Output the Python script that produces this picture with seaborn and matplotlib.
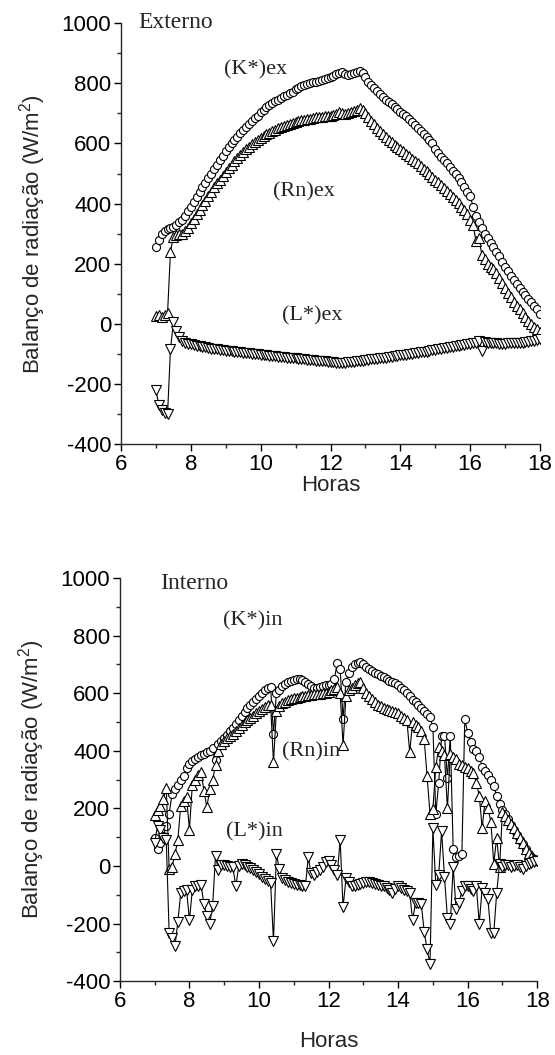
import numpy as np
import pandas as pd
import matplotlib
matplotlib.use("Agg")
import matplotlib.pyplot as plt
import seaborn as sns
from matplotlib.ticker import MultipleLocator

# time grid: 5-minute samples from 7:00 to 18:00
horas = np.round(7.0 + np.arange(133) / 12.0, 4)

# ---------------- Externo ----------------
k_ex = [255, 280, 300, 310, 315, 318, 322, 330, 338, 346, 360, 375,
        390, 405, 422, 440, 455, 470, 485, 500, 515, 530, 545, 560,
        575, 588, 600, 612, 623, 634, 645, 655, 665, 675, 684, 693,
        705, 713, 720, 727, 734, 740, 746, 752, 757, 762, 767, 772,
        782, 786, 790, 794, 797, 800, 803, 806, 809, 812, 815, 818,
        822, 826, 830, 836, 838, 832, 828, 830, 834, 838, 842, 836,
        822, 805, 795, 785, 775, 765, 755, 745, 738, 730, 722, 714,
        706, 698, 690, 682, 673, 663, 652, 642, 632, 622, 612, 600,
        580, 568, 556, 545, 534, 522, 510, 498, 485, 472, 455, 440,
        425, 390, 360, 340, 320, 300, 285, 270, 255, 240, 225, 205,
        190, 175, 160, 146, 133, 120, 107, 95, 84, 72, 60, 48,
        32]
rn_ex = [25, 30, 22, 28, 35, 240, 290, 295, 298, 300, 308, 320,
         335, 350, 365, 380, 395, 410, 425, 440, 455, 468, 480, 492,
         505, 518, 530, 541, 552, 562, 571, 580, 589, 597, 605, 612,
         618, 624, 630, 636, 641, 646, 651, 655, 659, 663, 666, 669,
         672, 675, 677, 679, 681, 683, 685, 687, 688, 689, 690, 691,
         692, 694, 698, 705, 702, 698, 700, 704, 708, 712, 718, 712,
         700, 688, 676, 664, 652, 642, 632, 622, 612, 604, 596, 589,
         582, 574, 566, 558, 550, 542, 534, 525, 516, 507, 498, 489,
         480, 471, 462, 452, 442, 432, 422, 412, 401, 390, 378, 366,
         345, 330, 275, 285, 230, 215, 200, 190, 182, 168, 152, 136,
         120, 104, 88, 74, 60, 48, 36, 22, 10, 0, -10, -18,
         -27]
l_ex = [-220, -270, -285, -295, -300, -85, 5, -25, -45, -58, -62, -66,
        -68, -70, -72, -74, -76, -78, -80, -82, -84, -85, -86, -88,
        -89, -90, -91, -92, -94, -95, -96, -97, -98, -99, -100, -101,
        -102, -103, -104, -106, -107, -108, -109, -110, -111, -112, -113, -114,
        -115, -116, -117, -118, -119, -120, -121, -122, -123, -124, -125, -126,
        -127, -128, -129, -130, -130, -129, -128, -127, -126, -125, -124, -122,
        -121, -120, -118, -117, -116, -115, -113, -112, -110, -109, -107, -106,
        -105, -104, -103, -101, -100, -98, -96, -95, -93, -92, -90, -88,
        -87, -85, -83, -81, -80, -78, -76, -74, -73, -71, -70, -68,
        -66, -64, -62, -58, -90, -60, -62, -63, -64, -65, -66, -66,
        -66, -65, -65, -64, -63, -63, -62, -61, -60, -58, -56, -54,
        -50]

# ---------------- Interno ----------------
k_in = [98, 58, 80, 105, 140, 182, 250, 266, 283, 300, 311, 340,
        355, 365, 373, 378, 384, 390, 396, 401, 410, 368, 425, 435,
        445, 455, 469, 480, 495, 508, 522, 535, 548, 560, 570, 580,
        589, 600, 610, 618, 622, 460, 600, 612, 625, 632, 638, 642,
        645, 648, 650, 647, 640, 632, 625, 620, 618, 622, 625, 628,
        628, 632, 650, 706, 683, 511, 640, 672, 690, 700, 705, 709,
        700, 690, 685, 678, 672, 666, 661, 655, 648, 643, 638, 634,
        630, 620, 610, 600, 590, 578, 568, 558, 548, 538, 527, 517,
        483, 180, 289, 450, 452, 306, 450, 58, 30, 35, 40, 511,
        463, 430, 407, 401, 380, 345, 330, 317, 300, 278, 244, 215,
        193, 180, 165, 143, 125, 109, 92, 75, 60, 42, 32, 25,
        19]
rn_in = [176, 193, 210, 233, 272, -9, -3, 40, 92, 210, 227, 240,
         126, 283, 300, 315, 328, 261, 205, 266, 300, 351, 400, 424,
         435, 445, 452, 460, 470, 480, 490, 500, 508, 515, 522, 530,
         538, 545, 552, 558, 560, 360, 540, 555, 565, 570, 575, 580,
         583, 585, 588, 590, 592, 594, 595, 596, 598, 599, 600, 602,
         604, 610, 615, 622, 600, 420, 590, 610, 620, 630, 635, 639,
         620, 600, 590, 580, 570, 561, 555, 550, 546, 542, 539, 535,
         530, 522, 515, 508, 396, 500, 490, 483, 470, 440, 311, 182,
         199, 345, 412, 400, 384, 200, 390, 380, 373, 356, 350, 345,
         340, 330, 323, 289, 244, 131, 227, 200, 154, 8, 98, -3,
         188, 175, 160, 145, 131, 115, 98, 80, 60, 45, 30, 25,
         20]
l_in = [80, 140, 125, 98, 90, -234, -251, -279, -194, -93, -88, -82,
        -189, -82, -71, -68, -65, -133, -172, -200, -138, 36, -15, 2,
        2, 0, -3, -5, -71, 0, 8, 3, -3, -8, -15, -20,
        -28, -37, -45, -52, -60, -262, 42, -9, -43, -50, -55, -60,
        -62, -65, -67, -70, -71, 30, -26, -30, -20, -15, -5, 13,
        19, 5, -15, -30, 92, -144, -43, -55, -71, -68, -65, -62,
        -58, -54, -57, -60, -62, -65, -68, -71, -75, -82, -93, -80,
        -71, -78, -85, -88, -95, -189, -127, -130, -133, -228, -290, -340,
        131, -65, -31, 120, -37, -180, -200, -3, -150, -127, -88, -71,
        -71, -80, -88, -71, -200, -76, -93, -116, -234, -234, -93, 8,
        -3, 5, 2, -3, 0, 2, -5, -9, 0, 8, 12, 15,
        19]

y_ticks = [-400, -200, 0, 200, 400, 600, 800, 1000]
x_ticks = [6, 8, 10, 12, 14, 16, 18]

sns.set_style("ticks")
plt.rcParams["font.family"] = ["Liberation Sans", "DejaVu Sans"]
plt.rcParams["axes.linewidth"] = 1.0
plt.rcParams["axes.unicode_minus"] = False
plt.rcParams["mathtext.fontset"] = "custom"
plt.rcParams["mathtext.rm"] = "Liberation Sans"
plt.rcParams["mathtext.it"] = "Liberation Sans"

fig = plt.figure(figsize=(5.55, 10.55), dpi=100)
ax1 = fig.add_axes([0.218, 0.579, 0.755, 0.399])
ax2 = fig.add_axes([0.216, 0.070, 0.752, 0.382])

serif = ["Liberation Serif", "DejaVu Serif"]
FS = 16


def draw(ax, k, rn, l, labels, title, xpad):
    df = pd.DataFrame({"h": horas, "k": k, "rn": rn, "l": l})
    common = dict(color="black", linewidth=0.8, markerfacecolor="white",
                  markeredgecolor="black", markeredgewidth=0.8, ax=ax,
                  legend=False)
    sns.lineplot(data=df, x="h", y="k", marker="o", markersize=5.8, **common)
    sns.lineplot(data=df, x="h", y="rn", marker="^", markersize=6.5, **common)
    sns.lineplot(data=df, x="h", y="l", marker="v", markersize=6.5, **common)
    ax.set_xlim(6, 18)
    ax.set_ylim(-400, 1000)
    ax.set_xticks(x_ticks)
    ax.set_yticks(y_ticks)
    ax.xaxis.set_minor_locator(MultipleLocator(1))
    ax.yaxis.set_minor_locator(MultipleLocator(100))
    ax.tick_params(axis="both", which="major", direction="out", length=5,
                   width=1, labelsize=FS, colors="black", pad=2)
    ax.tick_params(axis="both", which="minor", direction="out", length=3,
                   width=1)
    sns.despine(ax=ax)
    ax.set_xlabel("Horas", fontsize=FS, labelpad=xpad)
    ax.set_ylabel("Balanço de radiação (W/m$^2$)", fontsize=FS, labelpad=10)
    ax.text(title[1], title[2], title[0], fontsize=FS + 1, family=serif,
            ha="left", va="center")
    for txt, x, y in labels:
        ax.text(x, y, txt, fontsize=FS, family=serif, ha="center",
                va="center")


draw(ax1, k_ex, rn_ex, l_ex,
     [("(K*)ex", 9.84, 845), ("(Rn)ex", 11.24, 439), ("(L*)ex", 11.47, 27)],
     ("Externo", 6.5, 1004), 0)
draw(ax2, k_in, rn_in, l_in,
     [("(K*)in", 9.83, 851), ("(Rn)in", 11.5, 396), ("(L*)in", 9.86, 118)],
     ("Interno", 7.15, 983), 14)

fig.savefig("out.png", dpi=100)
